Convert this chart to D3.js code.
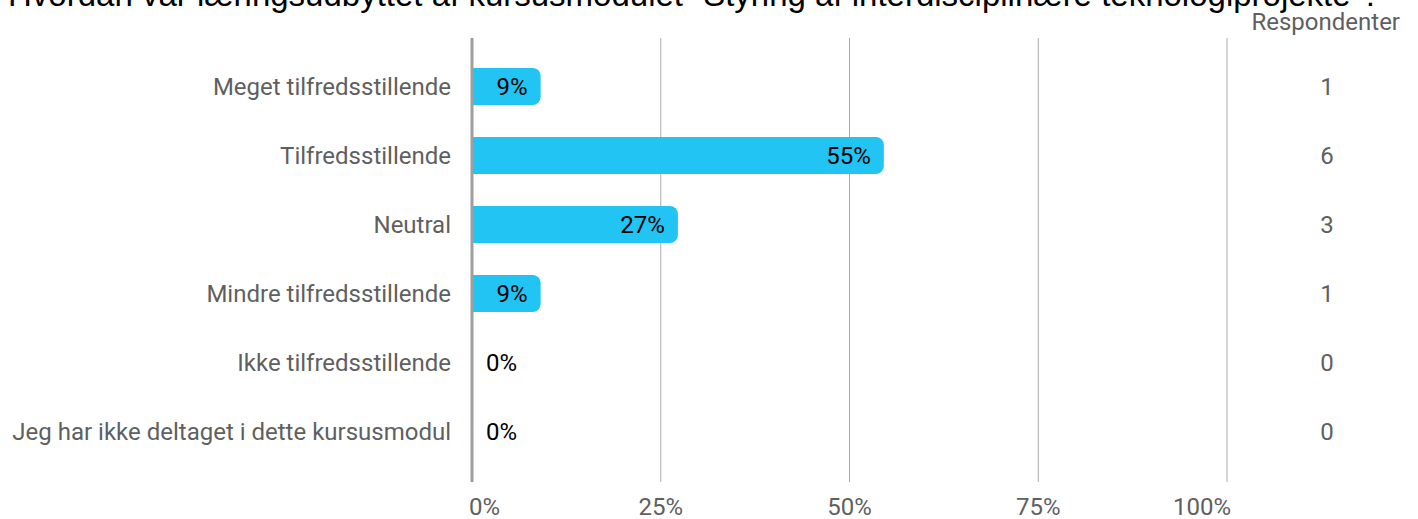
<!DOCTYPE html>
<html>
<head>
<meta charset="utf-8">
<script src="https://d3js.org/d3.v7.min.js"></script>
<style>
  body { margin: 0; background: #fff; }
  text { font-family: Roboto, "Noto Sans", sans-serif; }
</style>
</head>
<body>
<div id="chart"></div>
<script>
// data
var title = "Hvordan var læringsudbyttet af kursusmodulet \u201cStyring af interdisciplinære teknologiprojekte\u201d?";
var categories = ["Meget tilfredsstillende", "Tilfredsstillende", "Neutral",
                  "Mindre tilfredsstillende", "Ikke tilfredsstillende",
                  "Jeg har ikke deltaget i dette kursusmodul"];
var percents = [9.09, 54.55, 27.27, 9.09, 0, 0];
var pctLabels = ["9%", "55%", "27%", "9%", "0%", "0%"];
var counts = [1, 6, 3, 1, 0, 0];
var ticks = [0, 25, 50, 75, 100];

var W = 1418, H = 519;

var svg = d3.select("#chart").append("svg")
    .attr("width", W)
    .attr("height", H);

var x = d3.scaleLinear().domain([0, 100]).range([472, 1227]);
var y = d3.scaleBand().domain(categories).range([52, 466])
    .paddingInner(0.464).paddingOuter(0.232);

// title (the top of it runs off the picture, as in the original)
svg.append("text")
    .attr("x", 8).attr("y", 6)
    .style("font-family", "'Liberation Sans', Arial, sans-serif")
    .style("font-size", "33px")
    .attr("fill", "#000")
    .text(title);

svg.append("text")
    .attr("x", 1400).attr("y", 30)
    .attr("text-anchor", "end")
    .style("font-size", "24px")
    .attr("fill", "#5f5f5f")
    .text("Respondenter");

// grid
svg.append("g").selectAll("line")
  .data(ticks.slice(1))
  .join("line")
    .attr("x1", d => x(d)).attr("x2", d => x(d))
    .attr("y1", 38).attr("y2", 482)
    .attr("stroke", "#ababab")
    .attr("stroke-width", 1);

// tick labels
svg.append("g").selectAll("text")
  .data(ticks)
  .join("text")
    .attr("x", d => d == 0 ? x(d) - 3 : d == 100 ? x(d) + 4 : x(d))
    .attr("y", 515)
    .attr("text-anchor", d => d == 0 ? "start" : d == 100 ? "end" : "middle")
    .style("font-size", "24px")
    .attr("fill", "#5f5f5f")
    .text(d => d + "%");

// bars with rounded right end
function barPath(w, y0, h) {
  var r = Math.min(8, w / 2, h / 2);
  var x0 = x(0);
  if (w <= 0) return "";
  return "M" + x0 + "," + y0 +
    "H" + (x0 + w - r) +
    "A" + r + "," + r + " 0 0 1 " + (x0 + w) + "," + (y0 + r) +
    "V" + (y0 + h - r) +
    "A" + r + "," + r + " 0 0 1 " + (x0 + w - r) + "," + (y0 + h) +
    "H" + x0 + "Z";
}

svg.append("g").selectAll("path")
  .data(categories)
  .join("path")
    .attr("d", (d, i) => barPath(x(percents[i]) - x(0), y(d), y.bandwidth()))
    .attr("fill", "#22c4f4");

// percent labels
svg.append("g").selectAll("text")
  .data(categories)
  .join("text")
    .attr("x", (d, i) => percents[i] > 0 ? x(percents[i]) - 13 : x(0) + 14)
    .attr("y", d => y(d) + y.bandwidth() / 2)
    .attr("dy", "0.36em")
    .attr("text-anchor", (d, i) => percents[i] > 0 ? "end" : "start")
    .style("font-size", "24px")
    .attr("fill", "#000")
    .text((d, i) => pctLabels[i]);

// category labels
svg.append("g").selectAll("text")
  .data(categories)
  .join("text")
    .attr("x", 451)
    .attr("y", d => y(d) + y.bandwidth() / 2)
    .attr("dy", "0.36em")
    .attr("text-anchor", "end")
    .style("font-size", "24px")
    .attr("fill", "#5f5f5f")
    .text(d => d);

// counts
svg.append("g").selectAll("text")
  .data(categories)
  .join("text")
    .attr("x", 1327)
    .attr("y", d => y(d) + y.bandwidth() / 2)
    .attr("dy", "0.36em")
    .attr("text-anchor", "middle")
    .style("font-size", "24px")
    .attr("fill", "#5f5f5f")
    .text((d, i) => counts[i]);

// y axis line
svg.append("line")
    .attr("x1", x(0)).attr("x2", x(0))
    .attr("y1", 38).attr("y2", 482)
    .attr("stroke", "#9e9e9e")
    .attr("stroke-width", 3);
</script>
</body>
</html>
